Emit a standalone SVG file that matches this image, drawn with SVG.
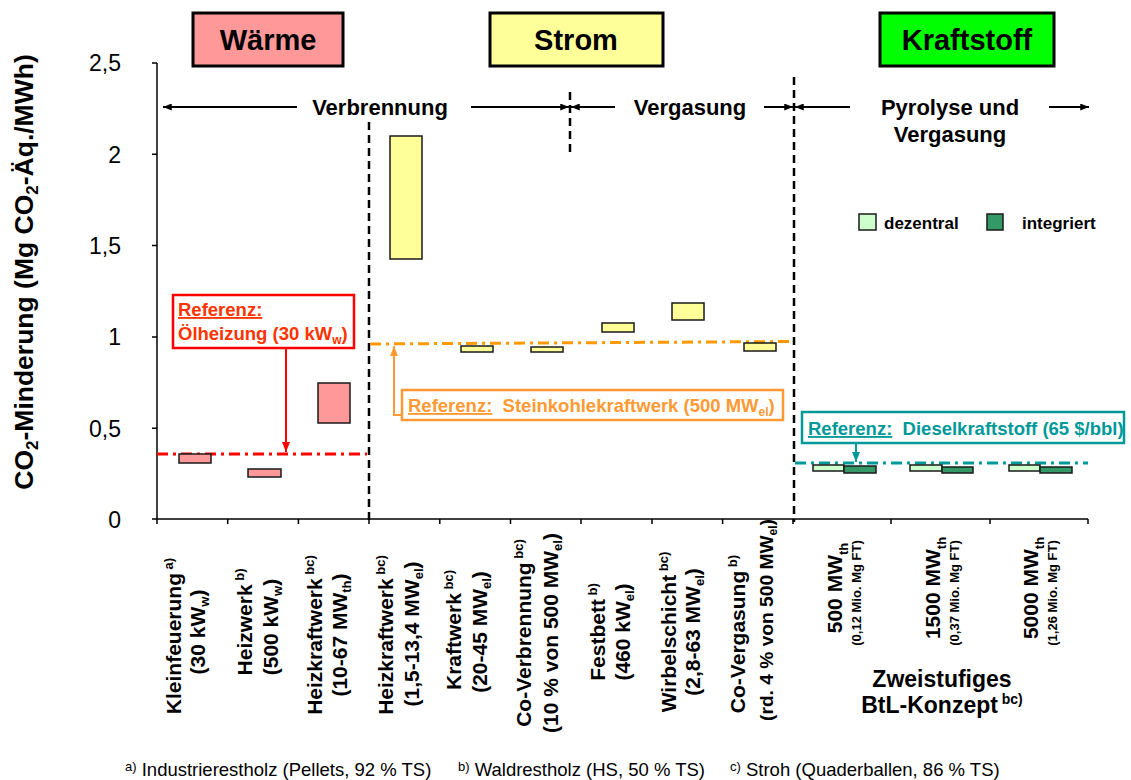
<svg xmlns="http://www.w3.org/2000/svg" width="1131" height="780" viewBox="0 0 1131 780">
<defs>
<style>
text{font-family:"Liberation Sans",Arial,sans-serif;fill:#000}
.b{font-weight:bold}
.tick{font-size:23px}
.lbl{font-size:21px;font-weight:bold}
.hdr{font-size:29px;font-weight:bold}
.proc{font-size:22px;font-weight:bold}
.bar{stroke:#1a1a1a;stroke-width:1.5}
.w{fill:#FF9999}.s{fill:#FFFF99}.dz{fill:#CCFFCC}.ig{fill:#339966}
.vd{stroke:#000;stroke-width:2.5;stroke-dasharray:8 5;fill:none}
.ax{stroke:#000;stroke-width:1.5;fill:none}
.arr{stroke:#000;stroke-width:2;fill:none}
.ref{font-size:18.5px;font-weight:bold}
.foot{font-size:18.5px}
</style>
<marker id="ak" viewBox="0 0 10 8" markerWidth="9" markerHeight="7" refX="10" refY="4" orient="auto" markerUnits="userSpaceOnUse"><path d="M0,0L10,4L0,8z" fill="#000"/></marker>
<marker id="ar" viewBox="0 0 10 8" markerWidth="10" markerHeight="9" refX="10" refY="4" orient="auto" markerUnits="userSpaceOnUse"><path d="M0,0L10,4L0,8z" fill="#FF0000"/></marker>
<marker id="ao" viewBox="0 0 10 8" markerWidth="10" markerHeight="9" refX="10" refY="4" orient="auto" markerUnits="userSpaceOnUse"><path d="M0,0L10,4L0,8z" fill="#FF9933"/></marker>
<marker id="at" viewBox="0 0 10 8" markerWidth="10" markerHeight="9" refX="10" refY="4" orient="auto" markerUnits="userSpaceOnUse"><path d="M0,0L10,4L0,8z" fill="#009999"/></marker>
</defs>
<rect width="1131" height="780" fill="#fff"/>

<g id="headers">
<rect x="193" y="13" width="150" height="53" fill="#FF9999" stroke="#000" stroke-width="3"/>
<text class="hdr" x="268" y="50" text-anchor="middle">Wärme</text>
<rect x="490" y="13" width="173" height="53" fill="#FFFF99" stroke="#000" stroke-width="3"/>
<text class="hdr" x="576" y="50" text-anchor="middle">Strom</text>
<rect x="880" y="13" width="174" height="53" fill="#00FF00" stroke="#000" stroke-width="3"/>
<text class="hdr" x="967" y="50" text-anchor="middle">Kraftstoff</text>
</g>

<g id="axes">
<line class="ax" x1="157" y1="63" x2="157" y2="519"/>
<line class="ax" x1="157" y1="519" x2="1088" y2="519"/>
<path class="ax" d="M152,63H157M152,154.3H157M152,245.6H157M152,336.9H157M152,428.2H157M152,519H157"/>
<path class="ax" d="M157,519V524M227.7,519V524M298.4,519V524M369,519V524M439.8,519V524M510.5,519V524M581,519V524M652,519V524M722.6,519V524M793,519V524M891,519V524M990,519V524M1088,519V524"/>
<g class="tick" text-anchor="end">
<text x="121" y="71">2,5</text>
<text x="121" y="162.5">2</text>
<text x="121" y="254">1,5</text>
<text x="121" y="345">1</text>
<text x="121" y="436.5">0,5</text>
<text x="121" y="527.5">0</text>
</g>
<text class="b" font-size="26.5" transform="translate(33,272) rotate(-90)" text-anchor="middle">CO<tspan font-size="17" dy="5">2</tspan><tspan dy="-5">-Minderung (Mg CO</tspan><tspan font-size="17" dy="5">2</tspan><tspan dy="-5">-Äq./MWh)</tspan></text>
</g>

<g id="connectors">
<line class="vd" x1="369" y1="122" x2="369" y2="522"/>
<line class="vd" x1="570" y1="92" x2="570" y2="152"/>
<line class="vd" x1="794" y1="77" x2="794" y2="522"/>
<line class="arr" x1="297" y1="107" x2="163" y2="107" marker-end="url(#ak)"/>
<line class="arr" x1="471" y1="107" x2="569" y2="107" marker-end="url(#ak)"/>
<line class="arr" x1="615" y1="107" x2="571" y2="107" marker-end="url(#ak)"/>
<line class="arr" x1="764" y1="107" x2="793" y2="107" marker-end="url(#ak)"/>
<line class="arr" x1="850" y1="107" x2="795" y2="107" marker-end="url(#ak)"/>
<line class="arr" x1="1049" y1="107" x2="1089" y2="107" marker-end="url(#ak)"/>
<line x1="157" y1="454" x2="367" y2="454" stroke="#FF0000" stroke-width="3" stroke-dasharray="11 5 3 5"/>
<line x1="370" y1="344" x2="793" y2="341.5" stroke="#FF9900" stroke-width="3" stroke-dasharray="11 5 3 5"/>
<line x1="795" y1="463" x2="1088" y2="463" stroke="#009999" stroke-width="3" stroke-dasharray="11 5 3 5"/>
<line x1="286" y1="348" x2="286" y2="452" stroke="#FF0000" stroke-width="2" marker-end="url(#ar)"/>
<polyline points="402,415 394,415 394,346" fill="none" stroke="#FF9933" stroke-width="2" marker-end="url(#ao)"/>
<line x1="856" y1="443" x2="856" y2="462" stroke="#009999" stroke-width="2" marker-end="url(#at)"/>
</g>

<g id="process-labels" class="proc" text-anchor="middle">
<text x="380" y="115">Verbrennung</text>
<text x="690" y="115">Vergasung</text>
<text x="950" y="115">Pyrolyse und</text>
<text x="950" y="142">Vergasung</text>
</g>

<g id="ref-oel">
<rect x="173" y="295" width="181" height="53" fill="#fff" stroke="#FF0000" stroke-width="2.5"/>
<text class="ref" x="178" y="316" style="fill:#FF3300" text-decoration="underline">Referenz:</text>
<text class="ref" x="178" y="340" style="fill:#FF3300">Ölheizung (30 kW<tspan font-size="12" dy="4">w</tspan><tspan dy="-4">)</tspan></text>
</g>

<g id="ref-kohle">
<rect x="402" y="390" width="381" height="30" fill="#fff" stroke="#FF9933" stroke-width="2.5"/>
<text class="ref" x="408" y="412" style="fill:#FF9933" xml:space="preserve"><tspan text-decoration="underline">Referenz:</tspan>  Steinkohlekraftwerk (500 MW<tspan font-size="12" dy="4">el</tspan><tspan dy="-4">)</tspan></text>
</g>

<g id="ref-diesel">
<rect x="802" y="412" width="322" height="31" fill="#fff" stroke="#009999" stroke-width="2.5"/>
<text class="ref" x="808" y="435" style="fill:#009999" xml:space="preserve"><tspan text-decoration="underline">Referenz:</tspan>  Dieselkraftstoff (65 $/bbl)</text>
</g>

<g id="legend">
<rect class="bar dz" x="859" y="214" width="17" height="16"/>
<text class="b" font-size="17" x="884" y="229">dezentral</text>
<rect class="bar ig" x="987" y="214" width="16" height="16"/>
<text class="b" font-size="17" x="1022" y="229">integriert</text>
</g>

<g id="bars">
<rect class="bar w" x="179" y="454" width="32" height="9"/>
<rect class="bar w" x="248" y="469" width="33" height="8"/>
<rect class="bar w" x="318" y="383" width="32" height="40"/>
<rect class="bar s" x="390" y="136" width="32" height="123"/>
<rect class="bar s" x="461" y="346" width="32" height="6"/>
<rect class="bar s" x="531" y="347" width="32" height="5"/>
<rect class="bar s" x="602" y="323" width="32" height="9"/>
<rect class="bar s" x="672" y="303" width="32" height="17"/>
<rect class="bar s" x="744" y="343" width="32" height="8"/>
<rect class="bar dz" x="813" y="465" width="31" height="6"/>
<rect class="bar ig" x="844" y="466" width="32" height="7"/>
<rect class="bar dz" x="910" y="465" width="32" height="6"/>
<rect class="bar ig" x="942" y="467" width="31" height="6"/>
<rect class="bar dz" x="1009" y="465" width="31" height="6"/>
<rect class="bar ig" x="1040" y="467" width="32" height="6"/>
</g>

<g id="category-labels" class="lbl" text-anchor="middle">
<text transform="translate(181,636) rotate(-90)">Kleinfeuerung<tspan font-size="13" dy="-8"> a)</tspan></text>
<text transform="translate(205,632) rotate(-90)">(30 kW<tspan font-size="13" dy="4">w</tspan><tspan dy="-4">)</tspan></text>
<text transform="translate(252,622) rotate(-90)">Heizwerk<tspan font-size="13" dy="-8"> b)</tspan></text>
<text transform="translate(278,627) rotate(-90)">(500 kW<tspan font-size="13" dy="4">w</tspan><tspan dy="-4">)</tspan></text>
<text transform="translate(322,635) rotate(-90)">Heizkraftwerk<tspan font-size="13" dy="-8"> bc)</tspan></text>
<text transform="translate(347,635) rotate(-90)">(10-67 MW<tspan font-size="13" dy="4">th</tspan><tspan dy="-4">)</tspan></text>
<text transform="translate(393,635) rotate(-90)">Heizkraftwerk<tspan font-size="13" dy="-8"> bc)</tspan></text>
<text transform="translate(419,634) rotate(-90)">(1,5-13,4 MW<tspan font-size="13" dy="4">el</tspan><tspan dy="-4">)</tspan></text>
<text transform="translate(461,630) rotate(-90)">Kraftwerk<tspan font-size="13" dy="-8"> bc)</tspan></text>
<text transform="translate(487,632) rotate(-90)">(20-45 MW<tspan font-size="13" dy="4">el</tspan><tspan dy="-4">)</tspan></text>
<text transform="translate(531,633) rotate(-90)">Co-Verbrennung<tspan font-size="13" dy="-8"> bc)</tspan></text>
<text transform="translate(558,633) rotate(-90)">(10 % von 500 MW<tspan font-size="13" dy="4">el</tspan><tspan dy="-4">)</tspan></text>
<text transform="translate(605,632) rotate(-90)">Festbett<tspan font-size="13" dy="-8"> b)</tspan></text>
<text transform="translate(630,632) rotate(-90)">(460 kW<tspan font-size="13" dy="4">el</tspan><tspan dy="-4">)</tspan></text>
<text transform="translate(676,632) rotate(-90)">Wirbelschicht<tspan font-size="13" dy="-8"> bc)</tspan></text>
<text transform="translate(700,632) rotate(-90)">(2,8-63 MW<tspan font-size="13" dy="4">el</tspan><tspan dy="-4">)</tspan></text>
<text transform="translate(745,634) rotate(-90)">Co-Vergasung<tspan font-size="13" dy="-8"> b)</tspan></text>
<text font-size="19.2" transform="translate(773,620) rotate(-90)">(rd. 4 % von 500 MW<tspan font-size="12" dy="4">el</tspan><tspan dy="-4">)</tspan></text>
<text transform="translate(842,588) rotate(-90)">500 MW<tspan font-size="13" dy="6">th</tspan></text>
<text font-size="13" transform="translate(861,593) rotate(-90)">(0,12 Mio. Mg FT)</text>
<text transform="translate(940,588) rotate(-90)">1500 MW<tspan font-size="13" dy="6">th</tspan></text>
<text font-size="13" transform="translate(959,593) rotate(-90)">(0,37 Mio. Mg FT)</text>
<text transform="translate(1038,588) rotate(-90)">5000 MW<tspan font-size="13" dy="6">th</tspan></text>
<text font-size="13" transform="translate(1057,593) rotate(-90)">(1,26 Mio. Mg FT)</text>
<text font-size="23" x="942" y="687">Zweistufiges</text>
<text font-size="23" x="942" y="713">BtL-Konzept<tspan font-size="14" dy="-9"> bc)</tspan></text>
</g>

<g id="footnotes" class="foot">
<text x="125" y="776"><tspan font-size="13" dy="-5">a)</tspan><tspan dy="5"> Industrierestholz (Pellets, 92 % TS)</tspan></text>
<text x="458" y="776"><tspan font-size="13" dy="-5">b)</tspan><tspan dy="5"> Waldrestholz (HS, 50 % TS)</tspan></text>
<text x="730" y="776"><tspan font-size="13" dy="-5">c)</tspan><tspan dy="5"> Stroh (Quaderballen, 86 % TS)</tspan></text>
</g>
</svg>
